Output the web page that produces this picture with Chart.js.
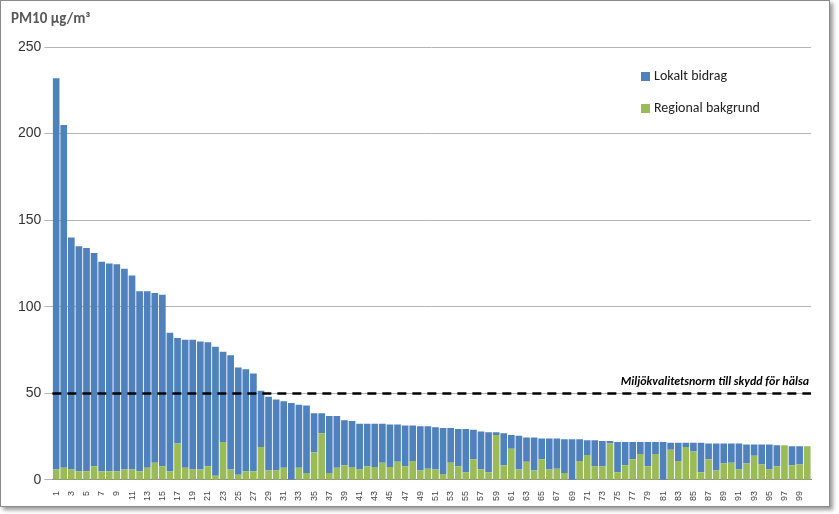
<!DOCTYPE html>
<html>
<head>
<meta charset="utf-8">
<script src="https://cdn.jsdelivr.net/npm/chart.js@4"></script>
<style>
  body { margin: 0; background: #fff; font-family: Calibri, Carlito, "Liberation Sans", sans-serif; }
  #ram { position: absolute; left: 0; top: 0; width: 828px; height: 505px; border: 1px solid #8a8a8a; box-shadow: 3px 3px 4px #999; background: #fff; }
  #titel { position: absolute; left: 10px; top: 8px; font-size: 15px; font-weight: bold; color: #595959; }
  #wrap { position: absolute; left: 0; top: 0; width: 828px; height: 505px; }
  .leg { position: absolute; font-size: 14px; color: #222; }
  .leg i { display: inline-block; width: 9px; height: 9px; margin-right: 4px; vertical-align: -1px; }
</style>
</head>
<body>
<div id="ram">
  <div id="wrap"><canvas id="c"></canvas></div>
  <div id="titel">PM10 µg/m³</div>
  <div class="leg" style="left:640px;top:66px"><i style="background:#4F81BD"></i>Lokalt bidrag</div>
  <div class="leg" style="left:640px;top:98px"><i style="background:#9BBB59"></i>Regional bakgrund</div>
</div>
<script>
// totalhalt per plats (staplarnas topp)
const totalt = [232,205,140,135,134,131,126,125,124.5,122,118,109,109,108,107,85,82,81,81,80,
  79.5,77,74,72,65,64,61.5,51.5,48,46.5,45.5,44.5,43.5,43,38.5,38.5,37,37,34.5,34,
  32.5,32.5,32.5,32.5,32,32,31.5,31.5,31,31,30.5,30,30,29.5,29.5,29,28,27.5,27.5,27,
  26,25.5,24.5,24.5,24,24,24,23.5,23.5,23.5,23,23,22.5,22.5,22,22,22,22,22,22,
  22,21.5,21.5,21.5,21.5,21.5,21,21,21,21,21,20.5,20.5,20.5,20.5,20,20,19.5,19.5,19.5];
const regional = [6,7,6,5,5,8,5,5,5,6,6,5,7,10,8,5,21,7,6,6,
  8,2.5,22,6,3,5,5,19,5.5,5.5,7,0,7,4,16,27,4,7,8.5,7.5,
  6,8,7.5,10,7.5,10.5,8,11,5.5,6.5,6,3.5,10,8,4.5,12,6,4.5,26,8.5,
  18,6,10.5,5.5,12,6,6.5,4,0,11,14.5,8,8,21,4.5,8.5,12,15,8,15,
  0,17.5,11,19,16.5,4.5,12,5.5,9.5,10,6,9.5,14,9,6,8,20,8.5,9,19.5];
const lokalt = totalt.map((t, i) => Math.max(0, t - regional[i]));
const platser = totalt.map((_, i) => String(i + 1));
const yTicks = [0, 50, 100, 150, 200, 250];
const NORM = 50;

const normLinje = {
  id: 'normLinje',
  afterDatasetsDraw(chart) {
    const { ctx, chartArea: a, scales: { y } } = chart;
    const py = y.getPixelForValue(NORM);
    ctx.save();
    ctx.strokeStyle = '#000';
    ctx.lineWidth = 2.5;
    ctx.setLineDash([9, 6]);
    ctx.beginPath(); ctx.moveTo(a.left, py); ctx.lineTo(a.right, py); ctx.stroke();
    ctx.setLineDash([]);
    ctx.font = 'italic bold 12px Calibri, Carlito, "Liberation Sans", sans-serif';
    ctx.fillStyle = '#000';
    ctx.textAlign = 'right';
    ctx.fillText('Miljökvalitetsnorm till skydd för hälsa', a.right - 2, py - 8);
    ctx.restore();
  }
};

new Chart(document.getElementById('c'), {
  type: 'bar',
  data: {
    labels: platser,
    datasets: [
      { label: 'Regional bakgrund', data: regional, backgroundColor: '#9BBB59', barPercentage: 0.88, categoryPercentage: 1 },
      { label: 'Lokalt bidrag', data: lokalt, backgroundColor: '#4F81BD', barPercentage: 0.88, categoryPercentage: 1 }
    ]
  },
  options: {
    responsive: true,
    maintainAspectRatio: false,
    animation: false,
    layout: { padding: { top: 46, right: 18, left: 14, bottom: 2 } },
    plugins: { legend: { display: false }, tooltip: { enabled: false } },
    scales: {
      x: {
        stacked: true,
        grid: { display: false },
        border: { color: '#888' },
        ticks: {
          autoSkip: false, maxRotation: 90, minRotation: 90,
          font: { size: 9 }, color: '#444',
          callback: (v, i) => i % 2 === 0 ? platser[i] : ''
        }
      },
      y: {
        stacked: true, min: 0, max: 250,
        afterBuildTicks: s => { s.ticks = yTicks.map(v => ({ value: v })); },
        grid: { color: '#b5b5b5' },
        border: { display: false },
        ticks: { font: { size: 14 }, color: '#333' }
      }
    }
  },
  plugins: [normLinje]
});
</script>
</body>
</html>
